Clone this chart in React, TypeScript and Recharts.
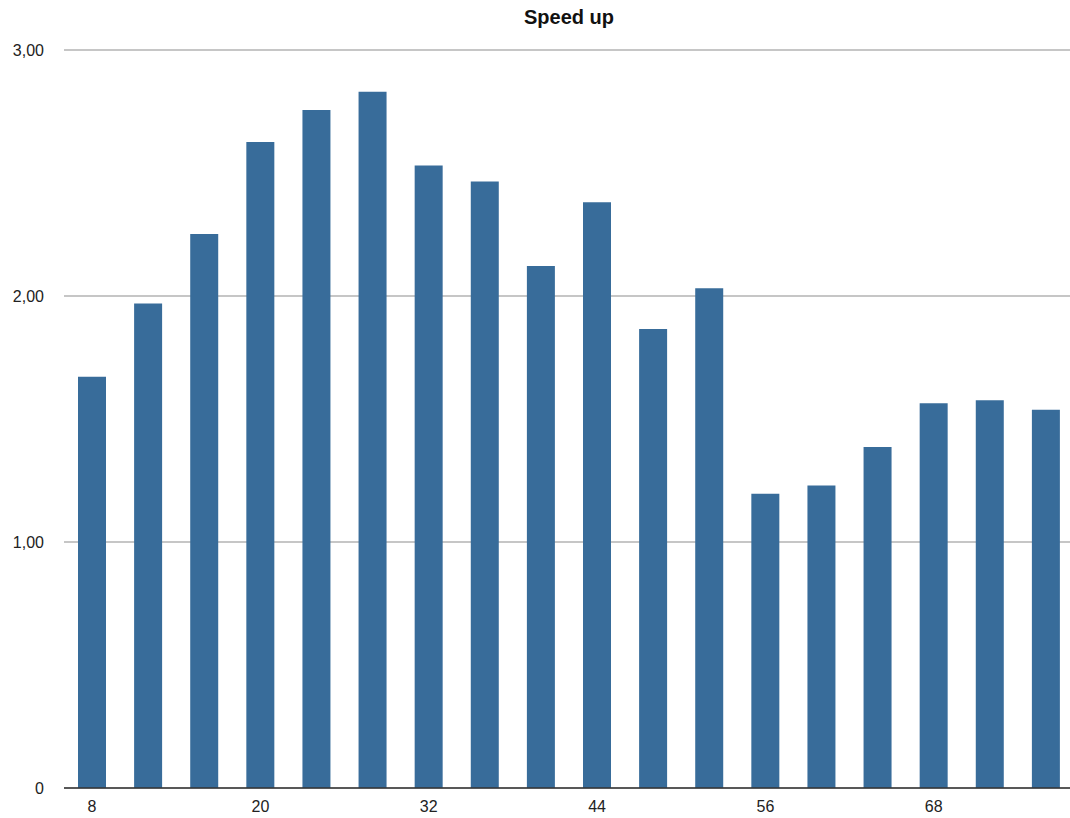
import { BarChart, Bar, XAxis, YAxis, CartesianGrid } from 'recharts'

const threads = [8, 12, 16, 20, 24, 28, 32, 36, 40, 44, 48, 52, 56, 60, 64, 68, 72, 76]
const speedup = [
  1.672, 1.97, 2.252, 2.626, 2.756, 2.83, 2.53, 2.465, 2.122, 2.381, 1.866, 2.031,
  1.196, 1.23, 1.386, 1.564, 1.576, 1.538
]
const yTicks = [0, 1, 2, 3]

const data = threads.map((t, i) => ({ threads: t, speedup: speedup[i] }))

const fmtY = (v: number) => (v === 0 ? '0' : v.toFixed(2).replace('.', ','))

export default function App() {
  const font = '"Liberation Sans", Arial, sans-serif'
  return (
    <div
      style={{
        position: 'absolute',
        left: 0,
        top: 0,
        width: 1070,
        height: 818,
        overflow: 'hidden',
        fontFamily: font,
        background: '#fff'
      }}
    >
      <div
        style={{
          position: 'absolute',
          left: 0,
          width: 1138,
          top: 6,
          textAlign: 'center',
          fontWeight: 'bold',
          fontSize: 20,
          color: '#111'
        }}
      >
        Speed up
      </div>
      <BarChart
        width={1074}
        height={818}
        data={data}
        margin={{ top: 50, right: 0, bottom: 0, left: 0 }}
        barSize={28}
      >
        <CartesianGrid vertical={false} stroke="#c6c6c6" strokeWidth={2} />
        <YAxis
          width={64}
          domain={[0, 3]}
          ticks={yTicks}
          tickFormatter={fmtY}
          axisLine={false}
          tickLine={false}
          tickSize={0}
          tickMargin={20}
          tick={{ fill: '#222', fontSize: 16, fontFamily: font }}
        />
        <XAxis
          dataKey="threads"
          height={30}
          interval={2}
          axisLine={{ stroke: '#333', strokeWidth: 1.5 }}
          tickLine={false}
          tickSize={0}
          tickMargin={13}
          tick={{ fill: '#222', fontSize: 16, fontFamily: font }}
        />
        <Bar dataKey="speedup" fill="#386c9a" isAnimationActive={false} />
      </BarChart>
    </div>
  )
}
